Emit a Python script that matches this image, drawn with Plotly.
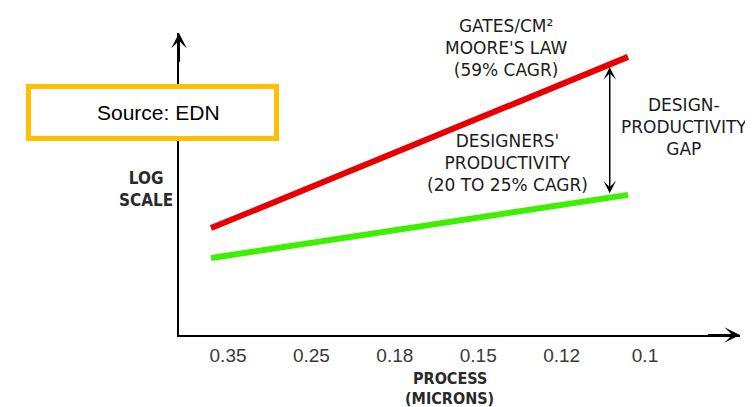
import plotly.graph_objects as go

# ---- data ----
process_labels = ["0.35", "0.25", "0.18", "0.15", "0.12", "0.1"]
process_pos = [0, 1, 2, 3, 4, 5]

line_x = [-0.204, 4.796]
gates_per_cm2 = [35.4, 92.1]          # Moore's law (log scale, arbitrary units)
designer_productivity = [25.5, 46.4]  # designers' productivity

gap_x = 4.577
gap_top = 88.7
gap_bottom = 46.4

XR = [-0.588, 6.139]
YR = [0, 100]

RED = "#e80000"
GREEN = "#3cf000"
TXT = "#1c1c1c"
FONT = "DejaVu Sans"
NARROW = "DejaVu Sans Condensed, Liberation Sans Narrow, Arial Narrow"

fig = go.Figure()
fig.add_trace(go.Scatter(x=line_x, y=gates_per_cm2, mode="lines",
                         line=dict(color=RED, width=6), hoverinfo="skip"))
fig.add_trace(go.Scatter(x=line_x, y=designer_productivity, mode="lines",
                         line=dict(color=GREEN, width=6), hoverinfo="skip"))

annotations = []
# axis arrowheads
annotations.append(dict(x=XR[0], y=YR[1], ax=XR[0], ay=YR[1] - 10, xref="x", yref="y",
                        axref="x", ayref="y", text="", showarrow=True, arrowhead=3,
                        arrowwidth=2, arrowsize=1.3, arrowcolor="black", standoff=0))
annotations.append(dict(x=XR[1], y=YR[0], ax=XR[1] - 0.4, ay=YR[0], xref="x", yref="y",
                        axref="x", ayref="y", text="", showarrow=True, arrowhead=3,
                        arrowwidth=2, arrowsize=1.3, arrowcolor="black", standoff=0))
# gap double arrow
annotations.append(dict(x=gap_x, y=gap_top, ax=gap_x, ay=gap_bottom, xref="x", yref="y",
                        axref="x", ayref="y", text="", showarrow=True, arrowhead=3,
                        startarrowhead=3, arrowside="end+start", arrowwidth=1.5,
                        arrowsize=1.4, startarrowsize=1.4, arrowcolor="black",
                        standoff=0, startstandoff=0))
# texts
annotations.append(dict(x=3.333, y=95.0, xref="x", yref="y", showarrow=False,
                        xanchor="center", yanchor="middle",
                        text="GATES/CM²<br>MOORE'S LAW<br>(59% CAGR)",
                        font=dict(family=FONT, size=17, color=TXT), align="center"))
annotations.append(dict(x=3.357, y=56.9, xref="x", yref="y", showarrow=False,
                        xanchor="center", yanchor="middle",
                        text="DESIGNERS'<br>PRODUCTIVITY<br>(20 TO 25% CAGR)",
                        font=dict(family=FONT, size=17, color=TXT), align="center"))
annotations.append(dict(x=5.47, y=68.9, xref="x", yref="y", showarrow=False,
                        xanchor="center", yanchor="middle",
                        text="DESIGN-<br>PRODUCTIVITY<br>GAP",
                        font=dict(family=FONT, size=17, color=TXT), align="center"))
annotations.append(dict(x=-0.0597, y=0.483, xref="paper", yref="paper", showarrow=False,
                        xanchor="center", yanchor="middle",
                        text="<b>LOG<br>SCALE</b>",
                        font=dict(family=NARROW, size=17, color="#2a2a2a"), align="center"))
annotations.append(dict(x=0.483, y=-0.1424, xref="paper", yref="paper", showarrow=False,
                        xanchor="center", yanchor="middle",
                        text="<b>PROCESS</b>",
                        font=dict(family=NARROW, size=16, color="#2a2a2a")))
annotations.append(dict(x=0.483, y=-0.2119, xref="paper", yref="paper", showarrow=False,
                        xanchor="center", yanchor="middle",
                        text="<b>(MICRONS)</b>",
                        font=dict(family=NARROW, size=16, color="#2a2a2a")))
annotations.append(dict(x=-0.0374, y=0.738, xref="paper", yref="paper", showarrow=False,
                        xanchor="center", yanchor="middle",
                        text="Source: EDN",
                        font=dict(family="Liberation Sans, Arial", size=21, color="black")))

shapes = [dict(type="rect", xref="paper", yref="paper", x0=-0.2683, x1=0.1738,
               y0=0.6507, y1=0.8228, line=dict(color="#ffc000", width=5),
               fillcolor="white", layer="above")]

fig.update_layout(
    width=753, height=407,
    margin=dict(l=171, r=21, t=25, b=80, autoexpand=False),
    paper_bgcolor="white", plot_bgcolor="white",
    showlegend=False,
    annotations=annotations,
    shapes=shapes,
    xaxis=dict(range=XR, tickvals=process_pos, ticktext=process_labels,
               showgrid=False, zeroline=False, showline=True, linecolor="black",
               linewidth=2, ticks="", ticklabelstandoff=2,
               tickfont=dict(family="Liberation Sans, Arial", size=19, color="#3a3a3a")),
    yaxis=dict(range=YR, showticklabels=False, showgrid=False, zeroline=False,
               showline=True, linecolor="black", linewidth=2, ticks=""),
)

fig.write_html("out.html")
